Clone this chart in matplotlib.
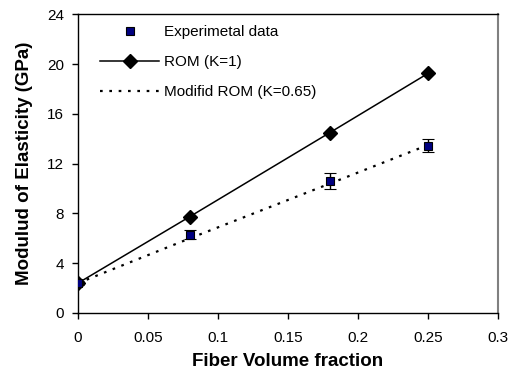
import matplotlib
matplotlib.use("Agg")
from matplotlib import pyplot as plt

plt.rcParams['font.family'] = ['Liberation Sans', 'DejaVu Sans']

# fiber volume fraction
vf = [0, 0.08, 0.18, 0.25]
# experimental modulus and error
exp_E = [2.4, 6.3, 10.6, 13.45]
exp_err = [0.15, 0.35, 0.65, 0.55]
# rule of mixtures
rom_E = [2.4, 7.75, 14.5, 19.25]
# modified rule of mixtures (K=0.65)
mrom_E = [2.4, 6.0, 10.4, 13.5]

fig = plt.figure(figsize=(5.11, 3.83), dpi=100)
ax = fig.add_axes([0.1526, 0.1828, 0.8220, 0.7799])

ax.plot(vf, mrom_E, color='black', linestyle=(0, (1.2, 3)), linewidth=1.6,
        label='Modifid ROM (K=0.65)', zorder=2)
ax.plot(vf, rom_E, color='black', linestyle='-', linewidth=1.1,
        marker='D', markersize=7, label='ROM (K=1)', zorder=3)
eb = ax.errorbar(vf, exp_E, yerr=exp_err, fmt='s', color='#000080',
                 markeredgecolor='black', markeredgewidth=0.8, markersize=6,
                 ecolor='black', elinewidth=1.0, capsize=4, capthick=1.0,
                 label='Experimetal data', zorder=4)

ax.set_xlim(0, 0.3)
ax.set_ylim(0, 24)
ax.set_xticks([0, 0.05, 0.1, 0.15, 0.2, 0.25, 0.3])
ax.set_xticklabels(['0', '0.05', '0.1', '0.15', '0.2', '0.25', '0.3'])
ax.set_yticks(range(0, 25, 4))
ax.tick_params(direction='out', length=4, width=1, labelsize=11, pad=6)
ax.tick_params(axis='x', pad=9)
for s in ['left', 'bottom', 'top']:
    ax.spines[s].set_linewidth(1.0)
ax.spines['right'].set_color('#808080')
ax.spines['right'].set_linewidth(1.5)

ax.set_xlabel('Fiber Volume fraction', fontsize=13.5, fontweight='bold', labelpad=6)
ax.set_ylabel('Modulud of Elasticity (GPa)', fontsize=13.5, fontweight='bold', labelpad=10)

h, l = ax.get_legend_handles_labels()
handles = [eb[0], h[1], h[0]]
labels = ['Experimetal data', 'ROM (K=1)', 'Modifid ROM (K=0.65)']
ax.legend(handles, labels, loc='upper left',
          frameon=False, fontsize=11, handlelength=3.9, labelspacing=1.05,
          bbox_to_anchor=(0.03, 0.995), handletextpad=0.3, borderaxespad=0.2)

fig.savefig('out.png', dpi=100)
